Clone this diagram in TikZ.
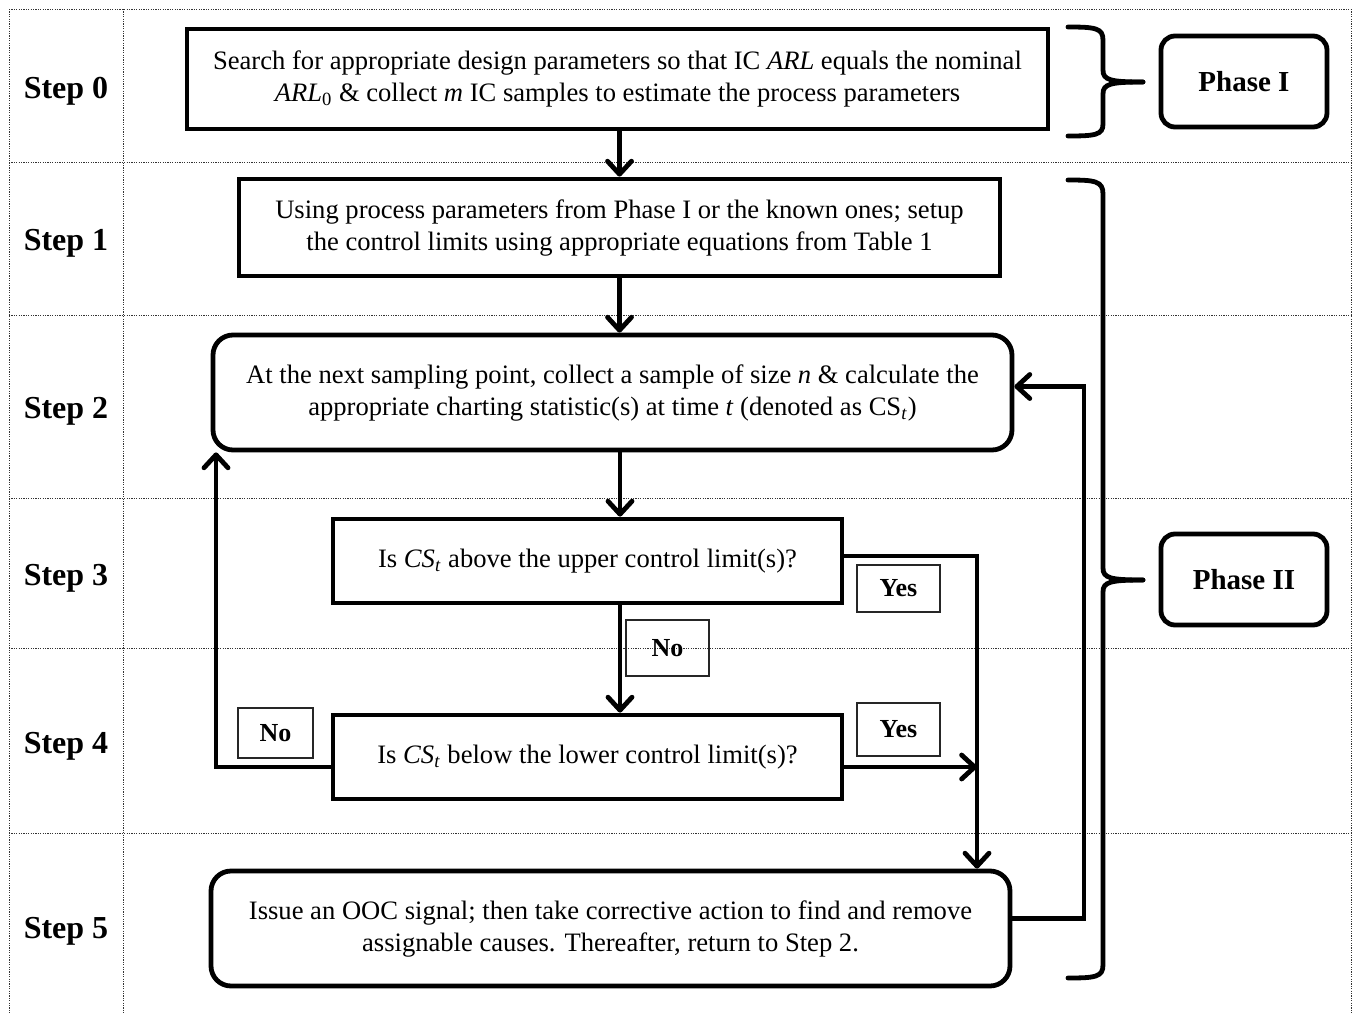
\documentclass[tikz,border=0pt]{standalone}
\usepackage{fontspec}
\setmainfont{Liberation Serif}
\usetikzlibrary{arrows.meta,calc}
\begin{document}
\begin{tikzpicture}[x=0.5pt,y=-0.5pt,
  grid/.style={line width=0.5pt,dash pattern=on 0.6pt off 0.6pt,black!80},
  thick box/.style={draw,line width=2.4pt,inner sep=0pt,align=center,font=\fontsize{13.3}{16}\selectfont},
  rbox/.style={thick box,rounded corners=10pt},
  phasebox/.style={draw,line width=2.4pt,rounded corners=7pt,font=\bfseries\fontsize{14.5}{17}\selectfont},
  lab/.style={draw,line width=0.6pt,black!85,text=black,font=\bfseries\fontsize{13}{15}\selectfont},
  steplab/.style={font=\bfseries\fontsize{16}{19}\selectfont},
  conn/.style={line width=2.4pt},
  arr/.style={conn,-{Straight Barb[length=6.5pt,width=12pt,line cap=round,line join=round]}},
  brace/.style={line width=2.4pt,line cap=round}]
\useasboundingbox (0,0) rectangle (1356,1013);
% grid
\draw[grid] (9,9) -- (1351,9);
\foreach \yy in {162,315,498,648,833}{\draw[grid] (9,\yy) -- (1351,\yy);}
\draw[grid] (9,9) -- (9,1013);
\draw[grid] (123,9) -- (123,1013);
\draw[grid] (1351,9) -- (1351,1013);
% step labels
\node[steplab] (s0) at (66,91) {Step 0};
\node[steplab] (s1) at (66,243) {Step 1};
\node[steplab] (s2) at (66,411) {Step 2};
\node[steplab] (s3) at (66,578) {Step 3};
\node[steplab] (s4) at (66,746) {Step 4};
\node[steplab] (s5) at (66,931) {Step 5};
% main boxes
\node[thick box,minimum width=430.5pt,minimum height=50pt] (b0) at (617.5,79)
  {Search for appropriate design parameters so that IC \textit{ARL} equals the nominal\\
   \textit{ARL}\textsubscript{0} \& collect \textit{m} IC samples to estimate the process parameters};
\node[thick box,minimum width=380.5pt,minimum height=48.5pt] (b1) at (619.5,227.5)
  {Using process parameters from Phase I or the known ones; setup\\
   the control limits using appropriate equations from Table 1};
\node[rbox,minimum width=399.5pt,minimum height=57.5pt] (b2) at (612.5,392.5)
  {At the next sampling point, collect a sample of size \textit{n} \& calculate the\\
   appropriate charting statistic(s) at time \textit{t} (denoted as CS\textsubscript{\textit{t}})};
\node[thick box,minimum width=254.5pt,minimum height=42pt] (b3) at (587.5,561)
  {Is \textit{CS}\textsubscript{\textit{t}} above the upper control limit(s)?};
\node[thick box,minimum width=254.5pt,minimum height=42pt] (b4) at (587.5,757)
  {Is \textit{CS}\textsubscript{\textit{t}} below the lower control limit(s)?};
\node[rbox,minimum width=399.5pt,minimum height=57.5pt] (b5) at (610.5,928.5)
  {Issue an OOC signal; then take corrective action to find and remove\\
   assignable causes. Thereafter, return to Step 2.};
% phase boxes
\node[phasebox,minimum width=83pt,minimum height=45.5pt] (p1) at (1244,81.5) {Phase I};
\node[phasebox,minimum width=83pt,minimum height=45.5pt] (p2) at (1244,579.5) {Phase II};
% yes/no labels
\node[lab,minimum width=41.5pt,minimum height=23.5pt] (y1) at (898.5,588.5) {Yes};
\node[lab,minimum width=41.5pt,minimum height=26.5pt] (y2) at (898.5,729.5) {Yes};
\node[lab,minimum width=41.5pt,minimum height=28pt] (n1) at (667.5,648) {No};
\node[lab,minimum width=37.5pt,minimum height=25pt] (n2) at (275.5,733) {No};
% helper coordinates
\coordinate (ax) at (620,0);
\coordinate (lx) at (216,0);
\coordinate (rx) at (977,0);
\coordinate (fx) at (1084,0);
% connectors
\draw[arr] (b1.north |- b0.south) -- (b1.north);
\draw[arr] (b1.south) -- (b1.south |- b2.north);
\draw[arr] (b2.south -| ax) -- (b3.north -| ax);
\draw[arr] (b3.south -| ax) -- (b4.north -| ax);
\draw[arr] ([yshift=-5pt]b4.west) -| (b2.south -| lx);
\draw[arr] ([yshift=2.5pt]b3.east) -| (b5.north -| rx);
\draw[arr] ([yshift=-5pt]b4.east) -- ([yshift=-5pt]b4.east -| rx);
\draw[arr] ([yshift=5pt]b5.east) -- ([yshift=5pt]b5.east -| fx) |- ([yshift=3pt]b2.east);
% braces
\draw[brace] (1068,27) .. controls (1095,27) and (1103,28) .. (1103,40) -- (1103,70)
  .. controls (1103,80) and (1110,82) .. (1143,82);
\draw[brace] (1143,82) .. controls (1110,82) and (1103,84) .. (1103,94) -- (1103,124)
  .. controls (1103,135) and (1095,136) .. (1068,136);
\draw[brace] (1068,180) .. controls (1095,180) and (1103,181) .. (1103,194) -- (1103,568)
  .. controls (1103,578) and (1110,580) .. (1143,580);
\draw[brace] (1143,580) .. controls (1110,580) and (1103,582) .. (1103,592) -- (1103,965)
  .. controls (1103,977) and (1095,978) .. (1068,978);
\end{tikzpicture}
\end{document}
